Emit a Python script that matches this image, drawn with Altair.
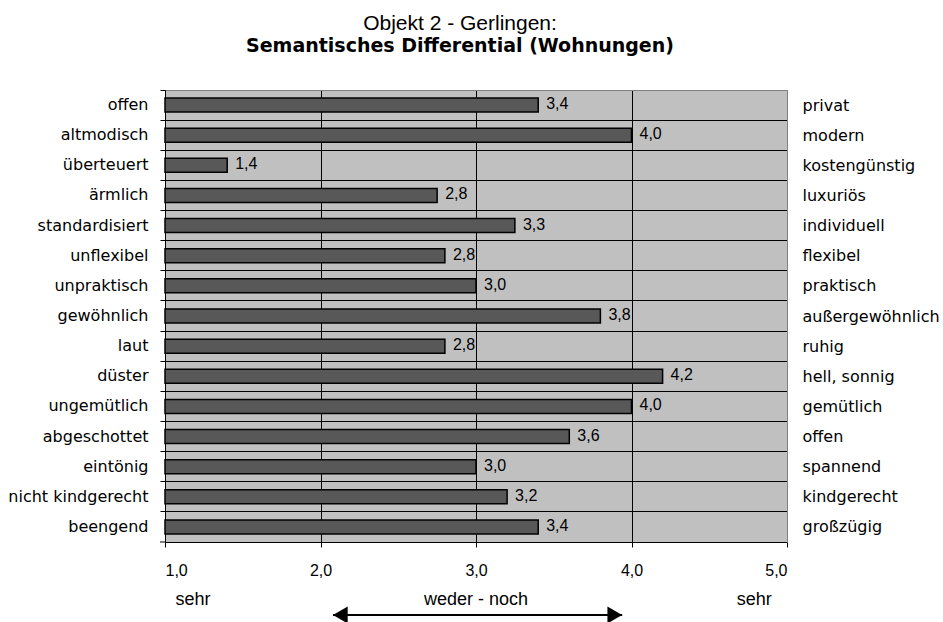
import altair as alt
import pandas as pd

left_labels = ["offen", "altmodisch", "überteuert", "ärmlich", "standardisiert",
               "unflexibel", "unpraktisch", "gewöhnlich", "laut", "düster",
               "ungemütlich", "abgeschottet", "eintönig", "nicht kindgerecht", "beengend"]
right_labels = ["privat", "modern", "kostengünstig", "luxuriös", "individuell",
                "flexibel", "praktisch", "außergewöhnlich", "ruhig", "hell, sonnig",
                "gemütlich", "offen", "spannend", "kindgerecht", "großzügig"]
values = [3.4, 4.0, 1.4, 2.75, 3.25, 2.8, 3.0, 3.8, 2.8, 4.2, 4.0, 3.6, 3.0, 3.2, 3.4]
x_ticks = [1, 2, 3, 4, 5]
annot_text = ["sehr", "weder - noch", "sehr"]
annot_x = [1.18, 3.0, 4.79]
arrow_x = [2.08, 3.94]

df = pd.DataFrame({"left": left_labels, "right": right_labels, "value": values})
annot_df = pd.DataFrame({"t": annot_text, "x": annot_x})
arrow_df = pd.DataFrame({"x": [arrow_x[0]], "x2": [arrow_x[1]]})
head_l = pd.DataFrame({"x": [arrow_x[0]]})
head_r = pd.DataFrame({"x": [arrow_x[1]]})

W, H = 622, 452
LABEL_EXPR = "replace(format(datum.value, '.1f'), '.', ',')"

xscale = alt.Scale(domain=[1, 5], zero=False, nice=False)
x_axis = alt.Axis(values=x_ticks, labelExpr=LABEL_EXPR, tickSize=5, tickColor="black",
                  domainColor="black", grid=True,
                  gridColor={"condition": {"test": "datum.value >= 5", "value": "#808080"}, "value": "black"},
                  labelFont="Liberation Sans", labelFontSize=16, labelColor="black",
                  labelPadding=15, title=None)
band = alt.Scale(paddingInner=0, paddingOuter=0)

bars = alt.Chart(df).mark_bar(size=14, fill="#585858", stroke="black", strokeWidth=1.5).encode(
    x=alt.X("value:Q", scale=xscale, axis=x_axis),
    x2=alt.datum(1),
    y=alt.Y("left:N", sort=None, scale=band,
            axis=alt.Axis(orient="left", bandPosition=0, tickSize=5, tickColor="black",
                          domainColor="black", grid=True,
                          gridColor={"condition": {"test": "datum.value === 'offen'", "value": "#808080"}, "value": "black"},
                          labelFont="DejaVu Sans", labelFontSize=16, labelColor="black",
                          labelPadding=12, title=None)),
)

labels = alt.Chart(df).transform_calculate(lbl=LABEL_EXPR.replace("datum.value", "datum['value']")).mark_text(
    align="left", baseline="middle", dx=8, dy=-1, font="Liberation Sans", fontSize=16, color="black"
).encode(
    x=alt.X("value:Q", scale=xscale, axis=x_axis),
    y=alt.Y("right:N", sort=None, scale=band,
            axis=alt.Axis(orient="right", ticks=False, domainColor="#808080", grid=False,
                          labelFont="DejaVu Sans", labelFontSize=16, labelColor="black",
                          labelPadding=15, title=None)),
    text="lbl:N",
)

annots = alt.Chart(annot_df).mark_text(
    align="center", baseline="middle", font="Liberation Sans", fontSize=18, color="black"
).encode(
    x=alt.X("x:Q", scale=xscale, axis=x_axis),
    y=alt.value(H + 58),
    text="t:N",
)

arrow_line = alt.Chart(arrow_df).mark_rule(color="black", strokeWidth=2).encode(
    x=alt.X("x:Q", scale=xscale, axis=x_axis),
    x2="x2:Q",
    y=alt.value(H + 73),
)
arrow_l = alt.Chart(head_l).mark_point(shape="triangle-left", size=289, filled=True, color="black",
                                        opacity=1, xOffset=7.4).encode(
    x=alt.X("x:Q", scale=xscale, axis=x_axis), y=alt.value(H + 73))
arrow_r = alt.Chart(head_r).mark_point(shape="triangle-right", size=289, filled=True, color="black",
                                        opacity=1, xOffset=-7.4).encode(
    x=alt.X("x:Q", scale=xscale, axis=x_axis), y=alt.value(H + 73))

bottom_tick = alt.Chart(pd.DataFrame({"a": [0]})).mark_rule(color="black", strokeWidth=1).encode(
    x=alt.value(-5), x2=alt.value(0), y=alt.value(H))

chart = alt.layer(bars, labels, annots, arrow_line, arrow_l, arrow_r, bottom_tick).resolve_scale(
    y="independent"
).properties(
    width=W, height=H,
    autosize=alt.AutoSizeParams(type="none"),
    padding={"left": 165, "top": 90, "right": 156, "bottom": 80},
    title=alt.TitleParams(
        text="Objekt 2 - Gerlingen:",
        subtitle="Semantisches Differential (Wohnungen)",
        font="Liberation Sans", fontSize=21, fontWeight="normal", color="black",
        subtitleFont="DejaVu Sans", subtitleFontSize=19, subtitleFontWeight="bold",
        subtitleColor="black", subtitlePadding=3,
        anchor="middle", frame="group", offset=34, dx=-16,
    ),
).configure_view(fill="#c0c0c0", stroke="#808080", strokeWidth=1)

chart.save("out.html", embed_options={"renderer": "svg", "actions": False})
